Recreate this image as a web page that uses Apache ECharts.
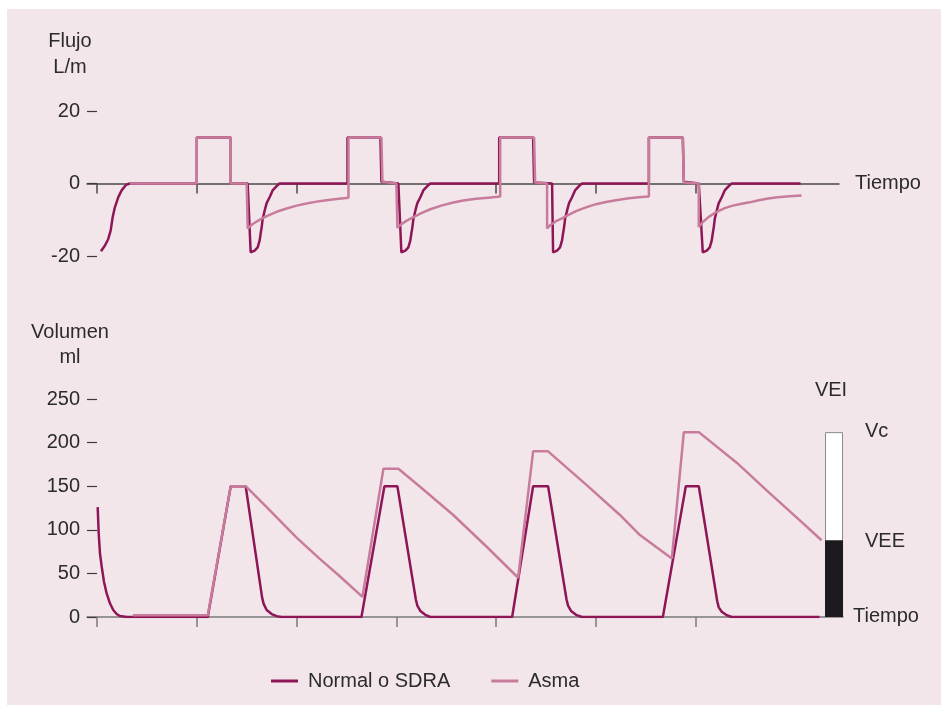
<!DOCTYPE html>
<html>
<head>
<meta charset="utf-8">
<script src="https://cdn.jsdelivr.net/npm/echarts@6/dist/echarts.min.js"></script>
<style>
html,body{margin:0;padding:0;background:#ffffff;}
#bg{position:absolute;left:7px;top:9px;width:934px;height:696px;background:#f2e6eb;}
#chart{position:absolute;left:0;top:0;width:941px;height:705px;}
</style>
</head>
<body>
<div id="bg"></div>
<div id="chart"></div>
<script>
// ---- data (time in arbitrary units, one tick per unit) ----
const seriesNames = ['Normal o SDRA', 'Asma'];
const timeTicks = [0, 1, 2, 3, 4, 5, 6];
const flowTicks = [-20, 0, 20];
const volumeTicks = [0, 50, 100, 150, 200, 250];

// Flujo (L/m)
const flowNormal = [
  [0.04,-18.7],[0.08,-17.1],[0.113,-15.3],[0.137,-13],[0.157,-9.3],[0.18,-6.5],[0.213,-3.8],[0.247,-1.9],[0.29,-0.4],[0.33,0],
  [1.0,0],[1.0,12.7],[1.34,12.7],[1.34,0],[1.51,0],
  [1.54,-19],[1.58,-18.5],[1.61,-17.6],[1.63,-15.7],[1.64,-13.8],[1.65,-12.1],[1.66,-9.8],[1.68,-7.5],[1.70,-5.4],[1.73,-3.8],[1.76,-1.9],[1.80,-0.7],[1.83,0],
  [2.51,0],[2.51,12.7],[2.84,12.7],[2.85,0.5],[3.02,0],
  [3.05,-19],[3.09,-18.5],[3.12,-17.6],[3.14,-15.7],[3.15,-13.8],[3.16,-12.1],[3.17,-9.8],[3.19,-7.5],[3.21,-5.4],[3.24,-3.8],[3.27,-1.9],[3.31,-0.7],[3.34,0],
  [4.03,0],[4.03,12.7],[4.37,12.7],[4.38,0.3],[4.56,0],
  [4.57,-19],[4.61,-18.5],[4.64,-17.6],[4.66,-15.7],[4.67,-13.8],[4.68,-12.1],[4.69,-9.8],[4.71,-7.5],[4.73,-5.4],[4.76,-3.8],[4.79,-1.9],[4.83,-0.7],[4.86,0],
  [5.53,0],[5.53,12.7],[5.87,12.7],[5.88,0.5],[6.03,0],
  [6.07,-19],[6.11,-18.5],[6.14,-17.6],[6.16,-15.7],[6.17,-13.8],[6.18,-12.1],[6.19,-9.8],[6.21,-7.5],[6.23,-5.4],[6.26,-3.8],[6.29,-1.9],[6.33,-0.7],[6.36,0],[7.05,0]
];
const flowAsma = [
  [0.33,0],[1.0,0],[1.0,12.7],[1.34,12.7],[1.34,0],[1.50,0],
  [1.51,-12.4],[1.55,-11.4],[1.60,-10.5],[1.65,-9.7],[1.70,-9.0],[1.80,-7.8],[1.90,-6.9],[2.0,-6.1],[2.1,-5.5],[2.2,-5.0],[2.3,-4.6],[2.4,-4.3],[2.52,-3.9],
  [2.52,12.7],[2.85,12.7],[2.86,0.5],[3.0,0],
  [3.01,-12.2],[3.05,-11.2],[3.10,-10.3],[3.17,-9.3],[3.25,-8.2],[3.34,-7.1],[3.45,-6.1],[3.56,-5.3],[3.67,-4.7],[3.80,-4.2],[3.92,-3.9],[4.04,-3.6],
  [4.04,12.7],[4.38,12.7],[4.39,0.3],[4.51,0],
  [4.51,-12.4],[4.55,-11.3],[4.60,-10.4],[4.66,-9.6],[4.73,-8.6],[4.80,-7.6],[4.90,-6.6],[5.0,-5.7],[5.1,-5.1],[5.2,-4.6],[5.33,-4.1],[5.43,-3.8],[5.53,-3.6],
  [5.53,12.7],[5.87,12.7],[5.88,0.3],[6.03,0],
  [6.03,-12],[6.07,-10.6],[6.13,-9.2],[6.21,-7.8],[6.29,-6.8],[6.37,-6.1],[6.46,-5.6],[6.54,-5.2],[6.62,-4.7],[6.71,-4.2],[6.82,-3.8],[6.94,-3.5],[7.06,-3.3]
];

// Volumen (ml)
const volumeNormal = [
  [0.007,126],[0.017,96],[0.03,73],[0.047,58],[0.07,40.5],[0.097,27],[0.13,15.7],[0.163,8],[0.197,3.4],[0.23,1.1],[0.3,0],
  [1.11,0],[1.34,150],[1.49,150],[1.655,22],[1.67,15],[1.70,8],[1.75,3.4],[1.80,1],[1.85,0],
  [2.65,0],[2.88,150],[3.01,150],[3.195,20],[3.21,13],[3.24,7],[3.29,2.5],[3.34,0],
  [4.16,0],[4.37,150],[4.52,150],[4.705,20],[4.72,13],[4.75,7],[4.80,2.5],[4.86,0],
  [5.67,0],[5.90,150],[6.03,150],[6.215,18],[6.23,11],[6.26,6],[6.31,2],[6.36,0],[7.24,0]
];
const volumeAsma = [
  [0.36,2],[1.11,2],[1.34,150],[1.49,150],[1.7,126],[2.0,91],[2.23,67],[2.43,47],[2.66,23],
  [2.87,170],[3.02,170],[3.24,149],[3.57,117],[3.91,80],[4.22,45],
  [4.37,190],[4.52,190],[4.91,151],[5.24,117],[5.44,94],[5.76,67],
  [5.88,212],[6.03,212],[6.41,177],[6.74,142],[7.07,108],[7.26,88]
];

// Barra VEI
const barTime = 7.385;
const veeValue = 88;
const vcValue = 212;

const FONT = '"Liberation Sans", Arial, sans-serif';
const TXT = '#2b2b2b';
const C_NORMAL = '#8f1656';
const C_ASMA = '#c87c9c';

const chart = echarts.init(document.getElementById('chart'), null, {renderer: 'canvas'});

function yAx(grid, min, max, interval) {
  return {
    type: 'value', gridIndex: grid, min: min, max: max, interval: interval,
    axisLine: {show: false, onZero: false},
    axisTick: {show: true, inside: true, length: 10, lineStyle: {color: '#3a3a3a', width: 1.2}},
    axisLabel: {margin: 7, fontSize: 20, color: TXT, fontFamily: FONT},
    splitLine: {show: false}
  };
}
function xAx(grid, max, lineColor, name, gap) {
  return {
    type: 'value', gridIndex: grid, min: -0.1, max: max,
    name: name, nameLocation: 'end', nameGap: gap,
    nameTextStyle: {fontSize: 20, color: TXT, fontFamily: FONT, verticalAlign: 'middle'},
    axisLine: {onZero: true, lineStyle: {color: lineColor, width: 1.5}},
    axisTick: {show: true, customValues: timeTicks, length: 10, lineStyle: {color: lineColor, width: 1.5}},
    axisLabel: {show: false},
    splitLine: {show: false}
  };
}

const textEl = (t, x, y, align) => ({
  type: 'text', x: x, y: y,
  style: {text: t, fill: TXT, font: '20px ' + FONT, align: align || 'center', verticalAlign: 'middle'}
});

chart.setOption({
  backgroundColor: 'transparent',
  animation: false,
  grid: [
    {left: 87, top: 111, width: 752, height: 145},
    {left: 87, top: 399, width: 756, height: 218}
  ],
  xAxis: [
    xAx(0, 7.435, '#4a4a4a', 'Tiempo', 16),
    xAx(1, 7.475, '#7a7a7a', '', 10)
  ],
  yAxis: [
    yAx(0, flowTicks[0], flowTicks[flowTicks.length - 1], flowTicks[1] - flowTicks[0]),
    yAx(1, volumeTicks[0], volumeTicks[volumeTicks.length - 1], volumeTicks[1] - volumeTicks[0])
  ],
  legend: {
    data: seriesNames, left: 266, top: 666, icon: 'rect',
    itemWidth: 27, itemHeight: 3, itemGap: 41,
    textStyle: {fontSize: 20, color: TXT, fontFamily: FONT, padding: [0, 0, 0, 5]}
  },
  graphic: [
    textEl('Flujo', 70, 41), textEl('L/m', 70, 67),
    textEl('Volumen', 70, 332), textEl('ml', 70, 357),
    textEl('VEI', 831, 390),
    textEl('Vc', 865, 431, 'left'),
    textEl('VEE', 865, 541, 'left'),
    textEl('Tiempo', 853, 616, 'left')
  ],
  series: [
    {name: seriesNames[0], type: 'line', xAxisIndex: 0, yAxisIndex: 0, data: flowNormal,
     symbol: 'none', lineStyle: {color: C_NORMAL, width: 2.5}, itemStyle: {color: C_NORMAL}, z: 3},
    {name: seriesNames[1], type: 'line', xAxisIndex: 0, yAxisIndex: 0, data: flowAsma,
     symbol: 'none', lineStyle: {color: C_ASMA, width: 2.5}, itemStyle: {color: C_ASMA}, z: 4},
    {name: seriesNames[0], type: 'line', xAxisIndex: 1, yAxisIndex: 1, data: volumeNormal,
     symbol: 'none', lineStyle: {color: C_NORMAL, width: 2.5}, itemStyle: {color: C_NORMAL}, z: 3},
    {name: seriesNames[1], type: 'line', xAxisIndex: 1, yAxisIndex: 1, data: volumeAsma,
     symbol: 'none', lineStyle: {color: C_ASMA, width: 2.5}, itemStyle: {color: C_ASMA}, z: 4},
    {name: 'Vc', type: 'bar', xAxisIndex: 1, yAxisIndex: 1, barWidth: 18, barGap: '-100%',
     data: [[barTime, vcValue]], itemStyle: {color: '#ffffff', borderColor: '#8a8a8a', borderWidth: 1}, z: 5},
    {name: 'VEE', type: 'bar', xAxisIndex: 1, yAxisIndex: 1, barWidth: 18, barGap: '-100%',
     data: [[barTime, veeValue]], itemStyle: {color: '#1c1a1e'}, z: 6}
  ]
});
</script>
</body>
</html>
